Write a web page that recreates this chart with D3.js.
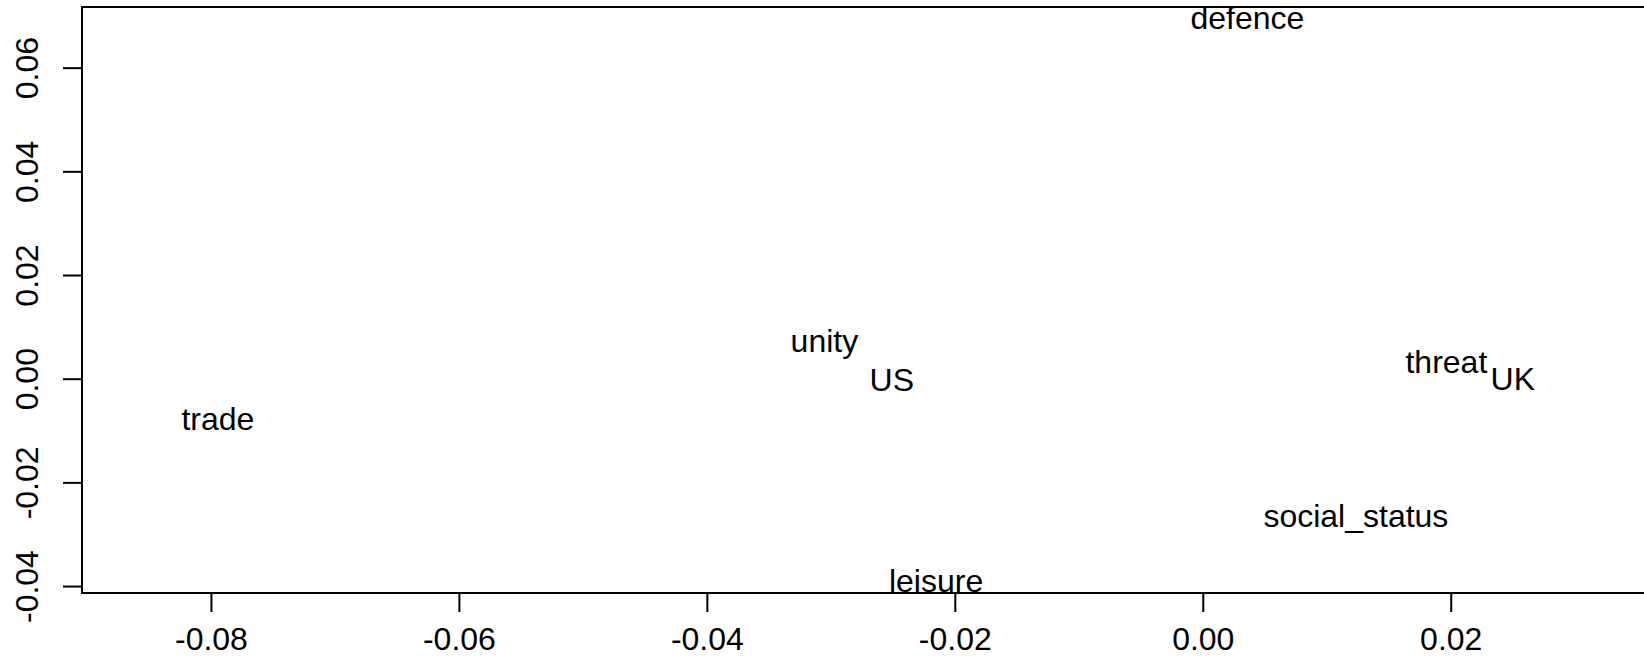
<!DOCTYPE html>
<html>
<head>
<meta charset="utf-8">
<script src="https://cdn.jsdelivr.net/npm/d3@7"></script>
<style>
  body { margin: 0; background: #fff; }
  text { font-family: "Liberation Sans", Arial, sans-serif; fill: #000; }
</style>
</head>
<body>
<svg id="chart" width="1644" height="668"></svg>
<script>
// words and their positions on the two dimensions
const words = ['defence', 'unity', 'US', 'threat', 'UK', 'trade', 'social_status', 'leisure'];
const dim1 = [0.00360, -0.03052, -0.02508, 0.01965, 0.02501, -0.07944, 0.01235, -0.02151];
const dim2 = [0.06968, 0.00743, -0.00010, 0.00326, 0.00004, -0.00775, -0.02645, -0.03887];

const xTicks = [-0.08, -0.06, -0.04, -0.02, 0.00, 0.02];
const yTicks = [-0.04, -0.02, 0.00, 0.02, 0.04, 0.06];

const svg = d3.select('#chart');
const fontSize = 32;

// plot box (right edge runs off the canvas like in the original)
const box = { left: 82, top: 7, right: 1660, bottom: 593 };

const x = d3.scaleLinear()
  .domain([-0.0904, 0.03688])
  .range([box.left, box.right]);

const y = d3.scaleLinear()
  .domain([-0.04134, 0.0717])
  .range([box.bottom, box.top]);

// plain hyphen for negatives, the way R prints them
const fmt = d => d3.format('.2f')(d).replace('\u2212', '-');

// x axis
const xAxis = d3.axisBottom(x)
  .tickValues(xTicks)
  .tickFormat(fmt)
  .tickSize(19);

const gx = svg.append('g')
  .attr('transform', `translate(0,${box.bottom})`)
  .call(xAxis);
gx.select('.domain').remove();
gx.selectAll('line').attr('stroke', '#000').attr('stroke-width', 2);
gx.selectAll('text')
  .attr('font-size', fontSize)
  .attr('font-family', '"Liberation Sans", Arial, sans-serif')
  .attr('fill', '#000')
  .attr('y', 57)
  .attr('dy', null);

// y axis, labels turned to run along the axis
const yAxis = d3.axisLeft(y)
  .tickValues(yTicks)
  .tickFormat(fmt)
  .tickSize(19);

const gy = svg.append('g')
  .attr('transform', `translate(${box.left},0)`)
  .call(yAxis);
gy.select('.domain').remove();
gy.selectAll('line').attr('stroke', '#000').attr('stroke-width', 2);
gy.selectAll('text')
  .attr('font-size', fontSize)
  .attr('font-family', '"Liberation Sans", Arial, sans-serif')
  .attr('fill', '#000')
  .attr('x', null)
  .attr('dy', null)
  .attr('text-anchor', 'middle')
  .attr('transform', `translate(${37.5 - box.left},0) rotate(-90)`);

// frame
svg.append('rect')
  .attr('x', box.left)
  .attr('y', box.top)
  .attr('width', box.right - box.left)
  .attr('height', box.bottom - box.top)
  .attr('fill', 'none')
  .attr('stroke', '#000')
  .attr('stroke-width', 2);

// word labels, centred on their point
svg.append('g')
  .selectAll('text')
  .data(words)
  .enter()
  .append('text')
  .attr('x', (d, i) => x(dim1[i]))
  .attr('y', (d, i) => y(dim2[i]))
  .attr('dy', '0.36em')
  .attr('text-anchor', 'middle')
  .attr('font-size', fontSize)
  .text(d => d);
</script>
</body>
</html>
